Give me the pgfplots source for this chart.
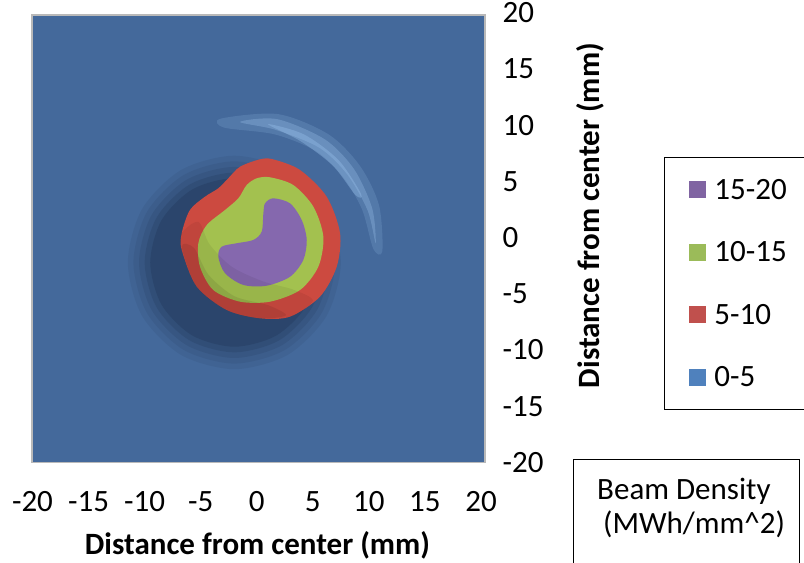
\documentclass[border=0pt]{standalone}
\usepackage{fontspec}
\setmainfont{Carlito}
\usepackage{pgfplots}
\pgfplotsset{compat=1.18}
\definecolor{bg}{HTML}{44699B}
\definecolor{redc}{HTML}{CC4A40}
\definecolor{greenc}{HTML}{A3C14F}
\definecolor{purplec}{HTML}{8568AE}
\definecolor{legpurple}{HTML}{8064A2}
\definecolor{leggreen}{HTML}{9BBB59}
\definecolor{legred}{HTML}{C0504D}
\definecolor{legblue}{HTML}{4F81BD}
\definecolor{shade}{HTML}{0E1C34}
\definecolor{hilite}{HTML}{9CC4EE}
\newcommand{\bigfont}{\fontsize{31bp}{37bp}\selectfont}
\begin{document}
\begin{tikzpicture}[x=1bp,y=1bp]
\useasboundingbox (0,0) rectangle (804,563);
\begin{axis}[
  at={(32.5bp,100.5bp)}, anchor=south west,
  scale only axis, width=448.5bp, height=449.5bp,
  xmin=-20, xmax=20, ymin=-20, ymax=20,
  clip=false,
  axis line style={draw=none}, tick style={draw=none},
  xtick={-20,-15,...,20}, xticklabels={-20,-15,-10,-5,0,5,10,15,20},
  ytick={-20,-15,...,20}, yticklabels={-20,-15,-10,-5,0,5,10,15,20},
  yticklabel pos=right,
  tick label style={font=\bigfont},
  label style={font=\bigfont},
  xticklabel style={anchor=center, inner sep=0pt, text height=19.5bp, text depth=0pt, yshift=-39.5bp},
  yticklabel style={anchor=west, inner sep=0pt, text height=19.5bp, text depth=0pt, xshift=21.5bp},
  xlabel={\textbf{Distance from center (mm)}},
  ylabel={\textbf{Distance from center (mm)}},
  xlabel style={at={(axis description cs:0.5017,-0.1835)}, anchor=center, inner sep=0pt, text height=19.5bp, text depth=0pt},
  ylabel style={at={(axis description cs:1.243,0.5495)}, anchor=center, inner sep=0pt, text height=19.5bp, text depth=0pt},
  legend image code/.code={\fill[#1,draw=none] (0bp,-8.5bp) rectangle (17bp,8.5bp);},
  legend style={at={(axis description cs:1.408,0.6796)}, anchor=north west, draw=black, line width=0.8bp, fill=white,
    inner xsep=25bp, inner ysep=22.5bp, row sep=43bp, column sep=8bp, font=\bigfont,
    nodes={inner sep=0pt, text height=19.5bp, text depth=0pt, text width=150bp}},
  legend cell align=left,
]
% base plane (0-5)
\addplot[fill=bg, draw=gray!55, line width=1.5bp, forget plot]
  coordinates {(-20.04,-20) (20.36,-20) (20.36,19.82) (-20.04,19.82)} -- cycle;
% shadow halo (lower left), soft layers
\addplot[smooth cycle, fill=shade, draw=none, fill opacity=0.07, forget plot]
  coordinates {(7.5,-2.2)(6.23,2.55)(2.75,6.03)(-2.0,7.3)(-6.75,6.03)(-10.23,2.55)(-11.5,-2.2)(-10.23,-6.95)(-6.75,-10.43)(-2.0,-11.7)(2.75,-10.43)(6.23,-6.95)};
\addplot[smooth cycle, fill=shade, draw=none, fill opacity=0.08, forget plot]
  coordinates {(7.0,-2.2)(5.79,2.3)(2.5,5.59)(-2.0,6.8)(-6.5,5.59)(-9.79,2.3)(-11.0,-2.2)(-9.79,-6.7)(-6.5,-9.99)(-2.0,-11.2)(2.5,-9.99)(5.79,-6.7)};
\addplot[smooth cycle, fill=shade, draw=none, fill opacity=0.10, forget plot]
  coordinates {(6.5,-2.2)(5.36,2.05)(2.25,5.16)(-2.0,6.3)(-6.25,5.16)(-9.36,2.05)(-10.5,-2.2)(-9.36,-6.45)(-6.25,-9.56)(-2.0,-10.7)(2.25,-9.56)(5.36,-6.45)};
\addplot[smooth cycle, fill=shade, draw=none, fill opacity=0.13, forget plot]
  coordinates {(6.0,-2.2)(4.93,1.8)(2.0,4.73)(-2.0,5.8)(-6.0,4.73)(-8.93,1.8)(-10.0,-2.2)(-8.93,-6.2)(-6.0,-9.13)(-2.0,-10.2)(2.0,-9.13)(4.93,-6.2)};
\addplot[smooth cycle, fill=shade, draw=none, fill opacity=0.16, forget plot]
  coordinates {(5.5,-2.2)(4.5,1.55)(1.75,4.3)(-2.0,5.3)(-5.75,4.3)(-8.5,1.55)(-9.5,-2.2)(-8.5,-5.95)(-5.75,-8.7)(-2.0,-9.7)(1.75,-8.7)(4.5,-5.95)};
% highlight arc (upper right)
\addplot[smooth cycle, fill=hilite, draw=none, fill opacity=0.18, forget plot]
  coordinates {(-3.2,10.6)(1.9,11.0)(6.4,9.2)(9.2,6.4)(10.9,2.9)(11.2,-1.2)(10.4,-1.0)(9.4,2.5)(7.7,5.4)(5.3,7.7)(1.6,9.2)(-2.9,9.8)};
\addplot[smooth cycle, fill=hilite, draw=none, fill opacity=0.30, forget plot]
  coordinates {(-1.5,10.3)(1.84,10.55)(6.08,8.75)(8.68,6.1)(10.3,2.6)(10.6,-0.5)(9.9,2.4)(8.1,5.6)(5.6,8.0)(1.7,9.6)};
\addplot[smooth cycle, fill=hilite, draw=none, fill opacity=0.35, forget plot]
  coordinates {(1.0,10.1)(4.2,9.2)(7.3,6.9)(9.3,3.9)(8.8,3.8)(6.8,6.4)(3.9,8.6)};
% 5-10
\addplot[smooth cycle, fill=redc, draw=none, forget plot]
  coordinates {(0.29,6.98)(1.45,6.98)(3.86,6.03)(6.24,3.65)(7.43,0.40)(7.13,-2.58)(5.64,-5.24)(2.97,-7.02)(0.29,-7.17)(-2.68,-6.43)(-5.36,-4.34)(-6.69,-1.09)(-6.69,0.42)(-5.96,2.47)(-4.62,3.65)(-3.43,4.40)(-2.54,5.29)(-1.49,6.32)};
% 10-15
\addplot[smooth cycle, fill=greenc, draw=none, forget plot]
  coordinates {(1.18,5.38)(3.26,4.69)(5.05,2.76)(5.94,0.09)(5.49,-2.58)(3.86,-4.65)(1.18,-5.69)(-1.49,-5.69)(-3.88,-4.65)(-5.06,-2.58)(-5.21,-0.49)(-4.46,1.13)(-2.83,2.47)(-1.64,3.51)(-0.9,4.69)(0,5.29)};
% 15-20
\addplot[smooth cycle, fill=purplec, draw=none, forget plot]
  coordinates {(1.47,3.51)(2.97,3.06)(4.01,1.58)(4.46,-0.2)(4.15,-1.98)(2.97,-3.47)(0.88,-4.27)(-1.2,-4.2)(-2.83,-3.16)(-3.43,-1.69)(-3.13,-0.8)(-1.79,-0.49)(-0.31,-0.2)(0.44,0.54)(0.59,2.17)(0.74,3.06)};
% lighting: darker lower-left side of the peak
\addplot[smooth cycle, fill=black, draw=none, fill opacity=0.06, forget plot]
  coordinates {(-6.69,0.42)(-6.69,-1.09)(-5.36,-4.34)(-2.68,-6.43)(0.29,-7.17)(2.97,-7.02)(5.0,-5.6)(3.2,-4.6)(0.6,-3.9)(-2.2,-2.6)(-4.2,-0.6)(-5.2,1.4)};
\addplot[smooth cycle, fill=black, draw=none, fill opacity=0.08, forget plot]
  coordinates {(-6.69,-0.8)(-5.36,-4.34)(-2.68,-6.43)(0.29,-7.17)(2.6,-6.9)(1.0,-6.0)(-2.0,-5.2)(-4.3,-3.3)(-5.6,-0.9)};
\addlegendimage{fill=legpurple}
\addlegendentry{15-20}
\addlegendimage{fill=leggreen}
\addlegendentry{10-15}
\addlegendimage{fill=legred}
\addlegendentry{5-10}
\addlegendimage{fill=legblue}
\addlegendentry{0-5}
\end{axis}
\draw[line width=0.8bp] (573,-10) -- (573,104) -- (799,104) -- (799,-10);
\node[anchor=base west, inner sep=0pt, font=\bigfont] at (597,63) {Beam Density};
\node[anchor=base west, inner sep=0pt, font=\bigfont] at (603,29) {(MWh/mm\textasciicircum 2)};
\end{tikzpicture}
\end{document}
